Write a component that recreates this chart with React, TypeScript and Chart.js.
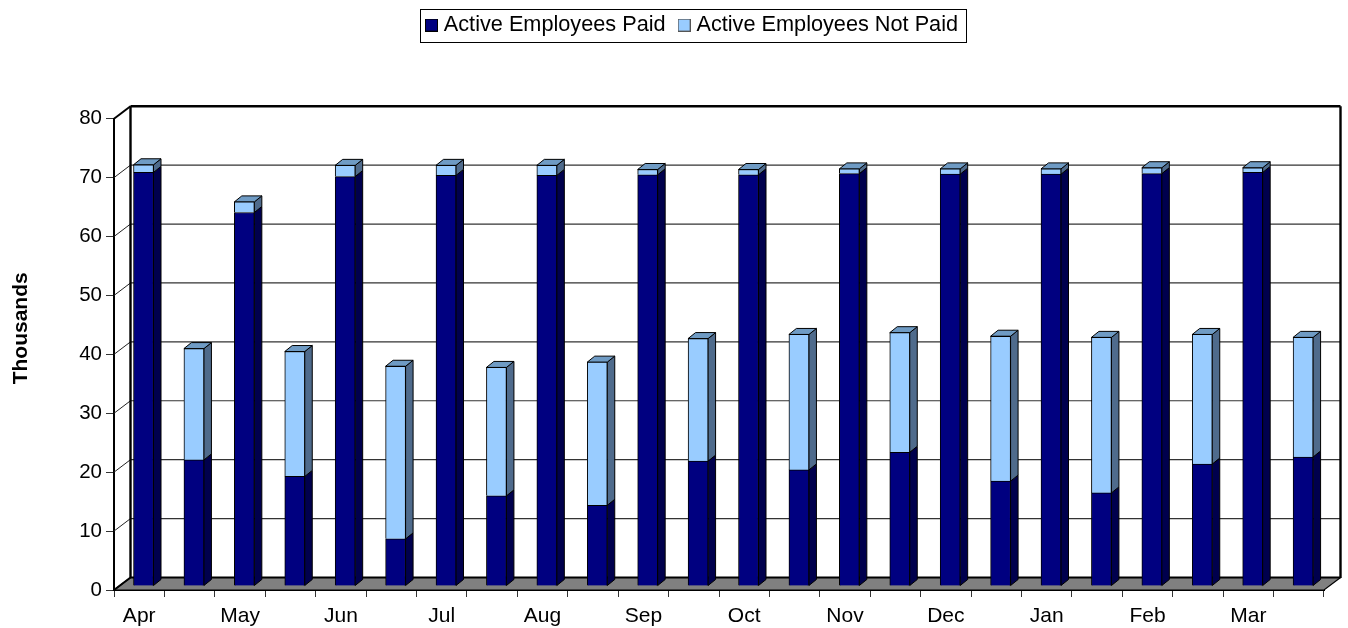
import React, { useEffect, useRef } from "react";
import { Chart, registerables } from "chart.js";

Chart.register(...registerables);

const categories = ["Apr", "", "May", "", "Jun", "", "Jul", "", "Aug", "", "Sep", "", "Oct", "", "Nov", "", "Dec", "", "Jan", "", "Feb", "", "Mar", ""];
const paid = [70.2, 21.4, 63.4, 18.6, 69.5, 8.0, 69.7, 15.3, 69.7, 13.7, 69.8, 21.2, 69.8, 19.7, 70.0, 22.7, 69.9, 17.8, 69.9, 15.8, 70.0, 20.7, 70.2, 21.9];
const notPaid = [1.3, 18.9, 1.8, 21.2, 1.9, 29.3, 1.7, 21.8, 1.7, 24.3, 0.9, 20.8, 0.9, 23.0, 0.8, 20.3, 0.9, 24.6, 0.9, 26.4, 1.0, 22.0, 0.8, 20.3];
const seriesNames = ["Active Employees Paid", "Active Employees Not Paid"];
const yTicks = [0, 10, 20, 30, 40, 50, 60, 70, 80];

const FONT = "'Liberation Sans', Arial, sans-serif";
const DARK = "#000080";
const LIGHT = "#99CCFF";
const DARK_SIDE = "#00004D";
const LIGHT_SIDE = "#4F6B8C";
const LIGHT_TOP = "#6F9BC4";

// Depth of the pseudo-3D box and of the bars inside it
const WALL_DX = 16.5;
const WALL_DY = 12.5;
const BAR_DX = 4.3;
const BAR_DY = 4;
const SIDE_DX = 7.5;
const SIDE_DY = 6;

function swatch(fill: string, stroke: string) {
  const c = document.createElement("canvas");
  c.width = 13;
  c.height = 13;
  const g = c.getContext("2d")!;
  g.fillStyle = fill;
  g.fillRect(0, 0, 13, 13);
  g.strokeStyle = stroke;
  g.lineWidth = 1;
  g.strokeRect(0.5, 0.5, 12, 12);
  return c;
}

function line(ctx: CanvasRenderingContext2D, x1: number, y1: number, x2: number, y2: number, w: number, color: string) {
  ctx.lineWidth = w;
  ctx.strokeStyle = color;
  ctx.beginPath();
  ctx.moveTo(x1, y1);
  ctx.lineTo(x2, y2);
  ctx.stroke();
}

function poly(ctx: CanvasRenderingContext2D, pts: number[][], fill: string, stroke = "#000", w = 1) {
  ctx.beginPath();
  pts.forEach((p, i) => (i ? ctx.lineTo(p[0], p[1]) : ctx.moveTo(p[0], p[1])));
  ctx.closePath();
  ctx.fillStyle = fill;
  ctx.fill();
  ctx.lineWidth = w;
  ctx.strokeStyle = stroke;
  ctx.stroke();
}

const boxPlugin = {
  id: "box3d",
  afterLayout(chart: any) {
    const lg = chart.legend;
    const dx = 32;
    const top = -2.75;
    const h = lg.bottom - lg.top;
    lg.left += dx;
    lg.right += dx;
    lg.top = top;
    lg.bottom = top + h;
    // The axis title sits off-centre in the reference
    const ys = chart.scales.y;
    ys.drawTitle = function () {
      const ctx = chart.ctx;
      ctx.save();
      ctx.translate(9, -26);
      Object.getPrototypeOf(ys).drawTitle.call(ys);
      ctx.restore();
    };
  },
  beforeDraw(chart: any) {
    const { ctx } = chart;
    ctx.save();
    ctx.fillStyle = "#fff";
    ctx.fillRect(420.5, 9.5, 546, 33);
    ctx.strokeStyle = "#000";
    ctx.lineWidth = 1;
    ctx.strokeRect(420.5, 9.5, 546, 33);
    ctx.restore();
  },
  beforeDatasetsDraw(chart: any) {
    const { ctx, chartArea: a } = chart;
    const y = chart.scales.y;
    const x0 = a.left;
    const x1 = a.right;
    const y0 = y.getPixelForValue(0);
    const yTop = y.getPixelForValue(80);
    ctx.save();
    // floor
    poly(ctx, [[x0, y0], [x1, y0], [x1 + WALL_DX, y0 - WALL_DY], [x0 + WALL_DX, y0 - WALL_DY]], "#808080", "#000", 1.2);
    // grid lines on the back wall and the left wall
    yTicks.forEach((t) => {
      const py = y.getPixelForValue(t);
      if (t > 0 && t < 80) {
        line(ctx, x0 + WALL_DX, py - WALL_DY, x1 + WALL_DX, py - WALL_DY, 1.2, "#333");
        line(ctx, x0, py, x0 + WALL_DX, py - WALL_DY, 1, "#222");
      }
    });
    // box frame
    line(ctx, x0 + WALL_DX, yTop - WALL_DY, x1 + WALL_DX, yTop - WALL_DY, 2.4, "#000");
    line(ctx, x0 + WALL_DX, yTop - WALL_DY, x0 + WALL_DX, y0 - WALL_DY, 2.4, "#000");
    line(ctx, x1 + WALL_DX, yTop - WALL_DY, x1 + WALL_DX, y0 - WALL_DY, 2.4, "#000");
    line(ctx, x0 + WALL_DX, y0 - WALL_DY, x1 + WALL_DX, y0 - WALL_DY, 2, "#000");
    line(ctx, x0, yTop, x0 + WALL_DX, yTop - WALL_DY, 2, "#000");
    line(ctx, x0, y0, x0 + WALL_DX, y0 - WALL_DY, 2, "#000");
    ctx.restore();

    // Bars: side and top faces from the library's bar elements; the front
    // faces are then drawn by Chart.js inside the same translation.
    ctx.save();
    ctx.translate(BAR_DX, -BAR_DY);
    const metas = chart.getSortedVisibleDatasetMetas();
    metas.forEach((meta: any, di: number) => {
      meta.data.forEach((el: any) => {
        const r = el.x + el.width / 2;
        const l = el.x - el.width / 2;
        poly(ctx, [[r, el.y], [r + SIDE_DX, el.y - SIDE_DY], [r + SIDE_DX, el.base - SIDE_DY], [r, el.base]], di === 0 ? DARK_SIDE : LIGHT_SIDE, "#000", 1);
        if (di === metas.length - 1) {
          poly(ctx, [[l, el.y], [r, el.y], [r + SIDE_DX, el.y - SIDE_DY], [l + SIDE_DX, el.y - SIDE_DY]], LIGHT_TOP, "#000", 1);
        }
      });
    });
  },
  afterDatasetsDraw(chart: any) {
    chart.ctx.restore();
  },
};

export default function App() {
  const ref = useRef<HTMLCanvasElement>(null);
  useEffect(() => {
    const swatches = [swatch(DARK, "#000"), swatch(LIGHT, "#555")];
    const chart = new Chart(ref.current!, {
      type: "bar",
      data: {
        labels: categories,
        datasets: [
          { label: seriesNames[0], data: paid, backgroundColor: DARK, borderColor: "#000", borderWidth: 1, clip: false },
          { label: seriesNames[1], data: notPaid, backgroundColor: LIGHT, borderColor: "#000", borderWidth: 1, clip: false },
        ],
      },
      options: {
        responsive: false,
        animation: false,
        devicePixelRatio: 1,
        datasets: { bar: { barThickness: 20 } },
        layout: { padding: { left: 0, right: 24, top: 70, bottom: 0 } },
        plugins: {
          tooltip: { enabled: false },
          legend: {
            display: true,
            position: "top",
            labels: {
              usePointStyle: true,
              pointStyleWidth: 3,
              padding: 17,
              color: "#000",
              font: { family: FONT, size: 21.7 },
              generateLabels: (c: any) =>
                Chart.defaults.plugins.legend.labels.generateLabels(c).map((it: any, i: number) => ({ ...it, pointStyle: swatches[i] })),
            },
          },
        },
        scales: {
          x: {
            stacked: true,
            offset: true,
            afterFit: (s: any) => { s.height = 38; },
            grid: { display: true, drawOnChartArea: false, drawTicks: true, tickLength: 7, offset: true, color: "#333" },
            border: { display: true, color: "#000", width: 2 },
            ticks: { autoSkip: false, maxRotation: 0, padding: 7, color: "#000", font: { family: FONT, size: 21 } },
          },
          y: {
            stacked: true,
            min: 0,
            max: 80,
            afterFit: (s: any) => { s.width = 114; },
            grid: { display: true, drawOnChartArea: false, drawTicks: true, tickLength: 8, color: "#333" },
            border: { display: true, color: "#000", width: 2 },
            ticks: { stepSize: 10, padding: 4, color: "#000", font: { family: FONT, size: 20.5 } },
            title: { display: true, text: "Thousands", color: "#000", padding: { top: 0, bottom: 0 }, font: { family: FONT, size: 21, weight: "bold" } },
          },
        },
      },
      plugins: [boxPlugin],
    } as any);
    return () => chart.destroy();
  }, []);
  return (
    <div style={{ position: "absolute", left: 0, top: 0, width: 1348, height: 628 }}>
      <canvas ref={ref} width={1348} height={628} style={{ display: "block" }} />
    </div>
  );
}
